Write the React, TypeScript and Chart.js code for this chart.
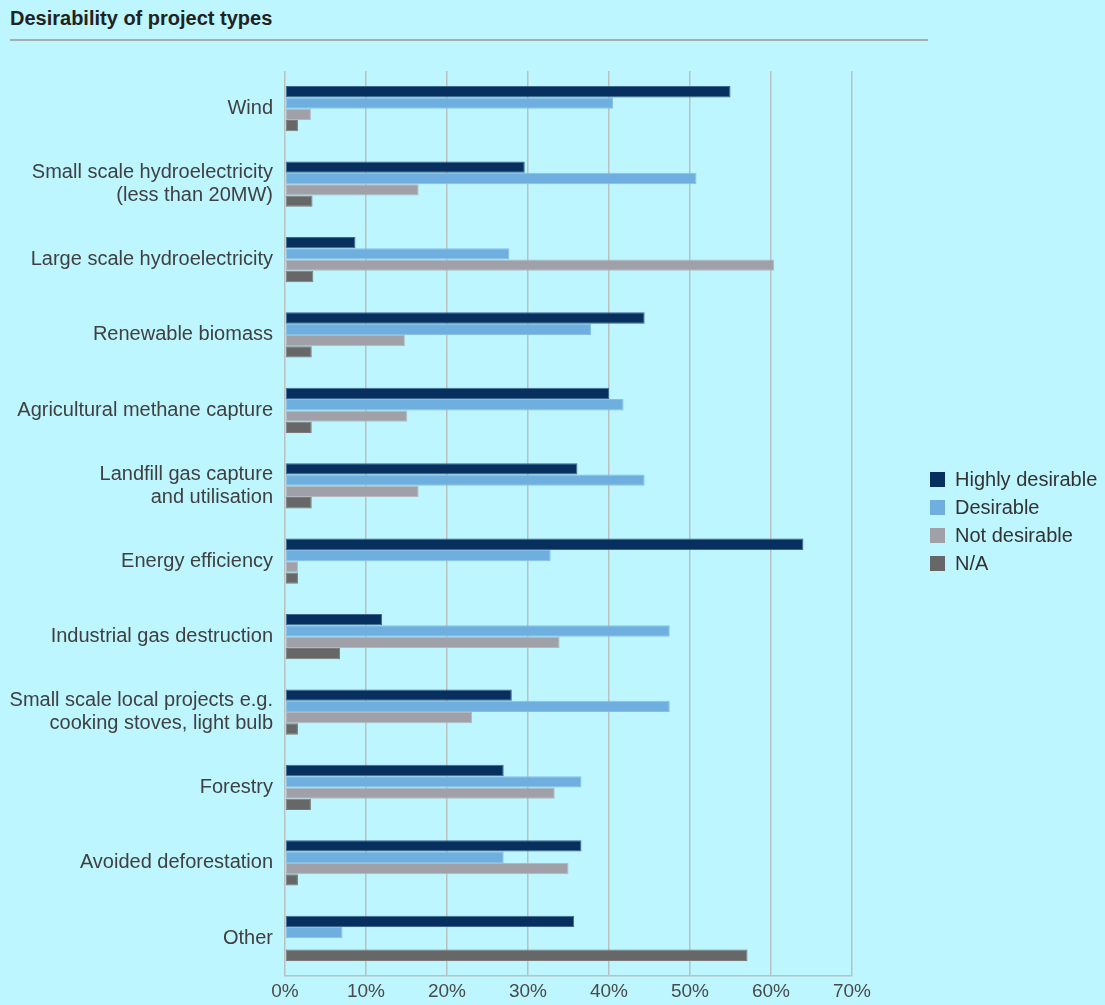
import React, { useEffect, useRef } from "react";
import { Chart, registerables } from "chart.js";

Chart.register(...registerables);

const categories: (string | string[])[] = [
  "Wind",
  ["Small scale hydroelectricity", "(less than 20MW)"],
  "Large scale hydroelectricity",
  "Renewable biomass",
  "Agricultural methane capture",
  ["Landfill gas capture", "and utilisation"],
  "Energy efficiency",
  "Industrial gas destruction",
  ["Small scale local projects e.g.", "cooking stoves, light bulb"],
  "Forestry",
  "Avoided deforestation",
  "Other",
];

const highlyDesirable = [55.0, 29.6, 8.7, 44.4, 40.0, 36.1, 64.0, 12.0, 28.0, 27.0, 36.6, 35.7];
const desirable = [40.5, 50.8, 27.7, 37.8, 41.8, 44.4, 32.8, 47.5, 47.5, 36.6, 27.0, 7.1];
const notDesirable: (number | null)[] = [3.2, 16.5, 60.4, 14.8, 15.1, 16.5, 1.6, 33.9, 23.1, 33.3, 35.0, null];
const notApplicable = [1.6, 3.4, 3.5, 3.3, 3.3, 3.3, 1.6, 6.8, 1.6, 3.2, 1.6, 57.1];

const seriesNames = ["Highly desirable", "Desirable", "Not desirable", "N/A"];
const seriesColors = ["#08305f", "#6eafdf", "#a0a0a8", "#676767"];
const seriesBorders = ["#3d6690", "#86bfe6", "#b2b8c0", "#7a7a7a"];

const xTickMax = 70;
const xTickStep = 10;

const FONT = "'Liberation Sans', Arial, Helvetica, sans-serif";
const BG = "#bdf6fe";

export default function App() {
  const canvasRef = useRef<HTMLCanvasElement | null>(null);

  useEffect(() => {
    const canvas = canvasRef.current;
    if (!canvas) return;
    const values = [highlyDesirable, desirable, notDesirable, notApplicable];
    const chart = new Chart(canvas, {
      type: "bar",
      data: {
        labels: categories as any,
        datasets: values.map((v, i) => ({
          label: seriesNames[i],
          data: v as any,
          backgroundColor: seriesColors[i],
          borderColor: seriesBorders[i],
          borderWidth: 1,
          borderSkipped: false as any,
          categoryPercentage: 0.6,
          barPercentage: 1.0,
        })),
      },
      options: {
        indexAxis: "y",
        responsive: false,
        animation: false,
        devicePixelRatio: 1,
        layout: { padding: { left: 0, top: 71, right: 253, bottom: 0 } },
        plugins: {
          legend: { display: false },
          title: { display: false },
          tooltip: { enabled: false },
        },
        scales: {
          x: {
            type: "linear",
            min: 0,
            max: xTickMax,
            position: "bottom",
            ticks: {
              stepSize: xTickStep,
              padding: 4,
              color: "#4a4a4a",
              font: { family: FONT, size: 19 },
              callback: (v: any) => `${v}%`,
            },
            grid: {
              color: "#b9c2bf",
              lineWidth: 1.5,
              drawTicks: false,
            },
            border: { display: true, color: "#b9c2bf", width: 1.5 },
            afterFit: (scale: any) => {
              scale.height = 29;
            },
          },
          y: {
            type: "category",
            grid: { display: false, drawTicks: false },
            border: { display: false },
            ticks: {
              padding: 12,
              color: "#404040",
              font: { family: FONT, size: 20, lineHeight: 1.15 },
              autoSkip: false,
            },
            afterFit: (scale: any) => {
              scale.width = 285;
            },
          },
        },
      },
    });
    return () => chart.destroy();
  }, []);

  return (
    <div
      style={{
        position: "absolute",
        left: 0,
        top: 0,
        width: 1105,
        height: 1005,
        background: BG,
        overflow: "hidden",
        fontFamily: FONT,
      }}
    >
      <div
        style={{
          position: "absolute",
          left: 10,
          top: 0,
          width: 918,
          height: 32,
          paddingTop: 7,
          borderBottom: "2px solid #a8acac",
          fontWeight: "bold",
          fontSize: 20,
          lineHeight: "22px",
          color: "#222222",
        }}
      >
        Desirability of project types
      </div>
      <canvas
        ref={canvasRef}
        width={1105}
        height={1005}
        style={{ position: "absolute", left: 0, top: 0, width: 1105, height: 1005 }}
      />
      <div style={{ position: "absolute", left: 930, top: 465 }}>
        {seriesNames.map((name, i) => (
          <div
            key={name}
            style={{ display: "flex", alignItems: "center", height: 28 }}
          >
            <span
              style={{
                display: "inline-block",
                width: 15,
                height: 15,
                background: seriesColors[i],
                marginRight: 10,
              }}
            />
            <span style={{ fontSize: 20, color: "#333333", lineHeight: "28px" }}>{name}</span>
          </div>
        ))}
      </div>
    </div>
  );
}
